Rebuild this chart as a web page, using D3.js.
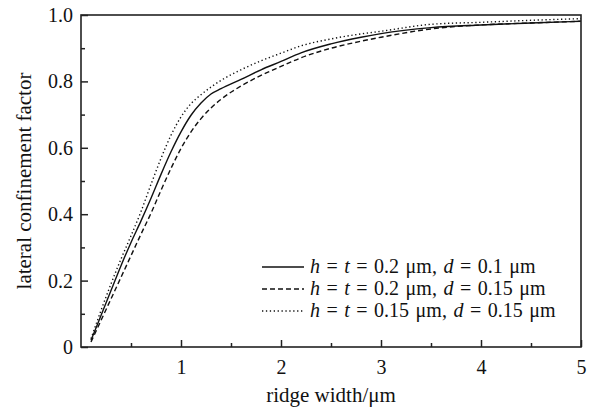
<!DOCTYPE html>
<html>
<head>
<meta charset="utf-8">
<script src="https://cdn.jsdelivr.net/npm/d3@7"></script>
<style>
  body { margin: 0; background: #fff; }
  text { font-family: "Liberation Serif", "DejaVu Serif", serif; fill: #111; }
</style>
</head>
<body>
<div id="chart"></div>
<script>
// ridge width (um)
const widths = [0.1, 0.2, 0.3, 0.4, 0.5, 0.6, 0.7, 0.8, 0.9, 1.0, 1.1, 1.2, 1.3, 1.4,
    1.6, 1.8, 2.0, 2.2, 2.5, 2.8, 3.0, 3.5, 4.0, 4.5, 5.0];

// h = t = 0.2 um, d = 0.1 um
const solidVals = [0.02, 0.095, 0.17, 0.245, 0.315, 0.38, 0.448, 0.52, 0.588, 0.648, 0.698, 0.735, 0.762, 0.778,
    0.806, 0.835, 0.86, 0.886, 0.913, 0.933, 0.944, 0.962, 0.97, 0.976, 0.981];
// h = t = 0.2 um, d = 0.15 um
const dashedVals = [0.015, 0.08, 0.145, 0.21, 0.275, 0.34, 0.403, 0.472, 0.538, 0.598, 0.648, 0.688, 0.72, 0.746,
    0.786, 0.818, 0.845, 0.871, 0.9, 0.921, 0.933, 0.958, 0.97, 0.976, 0.981];
// h = t = 0.15 um, d = 0.15 um
const dottedVals = [0.025, 0.11, 0.19, 0.265, 0.335, 0.408, 0.49, 0.568, 0.638, 0.693, 0.733, 0.76, 0.783, 0.803,
    0.835, 0.862, 0.885, 0.907, 0.928, 0.943, 0.951, 0.972, 0.978, 0.984, 0.989];

const seriesNames = ['solid', 'dashed', 'dotted'];
const xTicks = [1, 2, 3, 4, 5];
const xMinor = [0.5, 1.5, 2.5, 3.5, 4.5];
const yTicks = [0, 0.2, 0.4, 0.6, 0.8, 1.0];
const yMinor = [0.1, 0.3, 0.5, 0.7, 0.9];

const width = 598, height = 409;
const margin = { top: 15, right: 17, bottom: 62, left: 81 };

const svg = d3.select('#chart').append('svg')
    .attr('width', width)
    .attr('height', height);

const x = d3.scaleLinear().domain([0, 5]).range([margin.left, width - margin.right]);
const y = d3.scaleLinear().domain([0, 1]).range([height - margin.bottom, margin.top]);

const styles = {
    solid: null,
    dashed: '5,3',
    dotted: '1.3,2.6'
};
const valsBy = { solid: solidVals, dashed: dashedVals, dotted: dottedVals };

const line = d3.line()
    .x(d => x(d[0]))
    .y(d => y(d[1]))
    .curve(d3.curveMonotoneX);

seriesNames.forEach(name => {
    svg.append('path')
        .datum(widths.map((w, i) => [w, valsBy[name][i]]))
        .attr('fill', 'none')
        .attr('stroke', '#111')
        .attr('stroke-width', 1.4)
        .attr('stroke-dasharray', styles[name])
        .attr('d', line);
});

// frame
svg.append('rect')
    .attr('x', x(0))
    .attr('y', y(1))
    .attr('width', x(5) - x(0))
    .attr('height', y(0) - y(1))
    .attr('fill', 'none')
    .attr('stroke', '#222')
    .attr('stroke-width', 1.6);

// bottom axis, ticks pointing inside
const xAxis = svg.append('g').attr('transform', `translate(0,${y(0)})`)
    .call(d3.axisBottom(x).tickValues(xTicks).tickSize(-7).tickPadding(13).tickFormat(d3.format('d')));
xAxis.append('g')
    .call(d3.axisBottom(x).tickValues(xMinor).tickSize(-4).tickFormat(''));
xAxis.selectAll('.domain').remove();
xAxis.selectAll('line').attr('stroke', '#222').attr('stroke-width', 1.5);
xAxis.selectAll('text').attr('font-size', 20).attr('font-family', '"Liberation Serif", serif').attr('fill', '#111');

// left axis
const yAxis = svg.append('g').attr('transform', `translate(${x(0)},0)`)
    .call(d3.axisLeft(y).tickValues(yTicks).tickSize(-7).tickPadding(8)
        .tickFormat(d => d === 0 ? '0' : d3.format('.1f')(d)));
yAxis.append('g')
    .call(d3.axisLeft(y).tickValues(yMinor).tickSize(-4).tickFormat(''));
yAxis.selectAll('.domain').remove();
yAxis.selectAll('line').attr('stroke', '#222').attr('stroke-width', 1.5);
yAxis.selectAll('text').attr('font-size', 20).attr('font-family', '"Liberation Serif", serif').attr('fill', '#111');

// axis titles
svg.append('text')
    .attr('x', (x(0) + x(5)) / 2)
    .attr('y', 402)
    .attr('text-anchor', 'middle')
    .attr('font-size', 21)
    .text('ridge width/μm');

svg.append('text')
    .attr('transform', `translate(31,${(y(0) + y(1)) / 2}) rotate(-90)`)
    .attr('text-anchor', 'middle')
    .attr('font-size', 21)
    .text('lateral confinement factor');

// legend
const legendRows = [
    { style: 'solid', parts: [['h', true], [' = ', false], ['t', true], [' = 0.2 μm, ', false], ['d', true], [' = 0.1 μm', false]] },
    { style: 'dashed', parts: [['h', true], [' = ', false], ['t', true], [' = 0.2 μm, ', false], ['d', true], [' = 0.15 μm', false]] },
    { style: 'dotted', parts: [['h', true], [' = ', false], ['t', true], [' = 0.15 μm, ', false], ['d', true], [' = 0.15 μm', false]] }
];

const legend = svg.append('g').attr('transform', 'translate(262,267)');
legendRows.forEach((row, i) => {
    const g = legend.append('g').attr('transform', `translate(0,${i * 22})`);
    g.append('line')
        .attr('x1', 0).attr('x2', 42)
        .attr('y1', 0).attr('y2', 0)
        .attr('stroke', '#111')
        .attr('stroke-width', 1.3)
        .attr('stroke-dasharray', styles[row.style]);
    const t = g.append('text')
        .attr('x', 48)
        .attr('y', 6)
        .attr('font-size', 20)
        .attr('word-spacing', 1.5)
        .attr('xml:space', 'preserve')
        .style('white-space', 'pre');
    row.parts.forEach(p => {
        t.append('tspan')
            .attr('font-style', p[1] ? 'italic' : 'normal')
            .text(p[0]);
    });
});
</script>
</body>
</html>
